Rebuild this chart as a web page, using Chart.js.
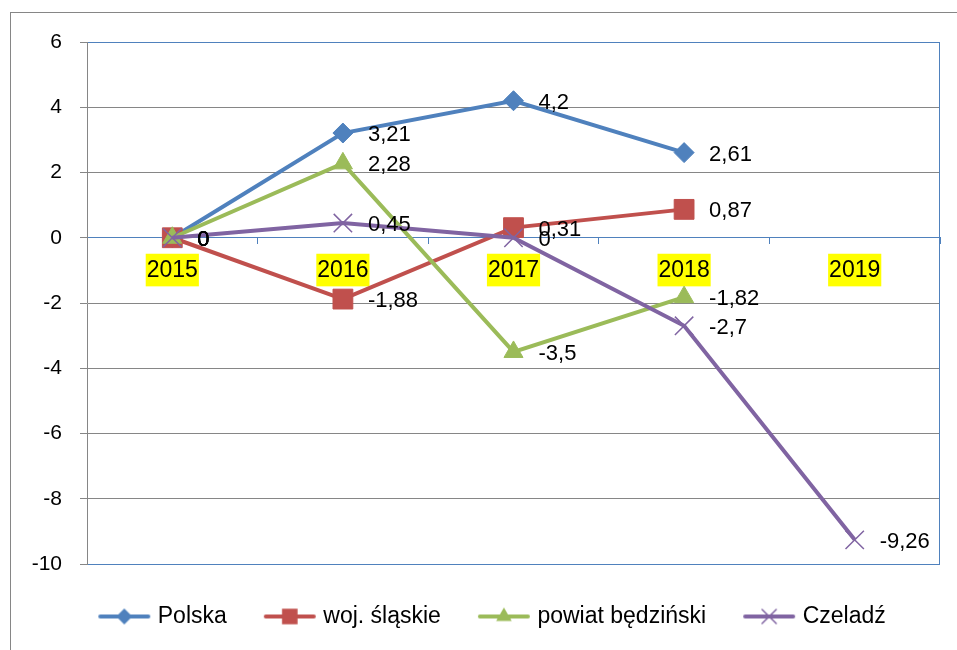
<!DOCTYPE html>
<html>
<head>
<meta charset="utf-8">
<script src="https://cdn.jsdelivr.net/npm/chart.js@4/dist/chart.umd.min.js"></script>
<style>
  html, body { margin: 0; padding: 0; background: #fff; }
  #wrap { width: 957px; height: 650px; }
</style>
</head>
<body>
<div id="wrap"><canvas id="chart" width="957" height="650"></canvas></div>
<script>
// Data
const years = ['2015', '2016', '2017', '2018', '2019'];
const polska = [0, 3.21, 4.2, 2.61, null];
const slaskie = [0, -1.88, 0.31, 0.87, null];
const bedzinski = [0, 2.28, -3.5, -1.82, null];
const czeladz = [0, 0.45, 0, -2.7, -9.26];
const seriesNames = ['Polska', 'woj. śląskie', 'powiat będziński', 'Czeladź'];
const yTicks = { min: -10, max: 6, step: 2 };

const BLUE = '#4F81BD', RED = '#C0504D', GREEN = '#9BBB59', PURPLE = '#8064A2';
const GRID = '#868686';
const FONT = '"Liberation Sans", Arial, sans-serif';

Chart.defaults.font.family = FONT;
Chart.defaults.color = '#000';

// small line+marker pictures for the legend
function legendImg(color, style, r) {
  const c = document.createElement('canvas');
  c.width = 54; c.height = 26;
  const g = c.getContext('2d');
  g.strokeStyle = color;
  g.lineWidth = 4;
  g.lineCap = 'round';
  g.beginPath(); g.moveTo(3, 13); g.lineTo(51, 13); g.stroke();
  g.fillStyle = color;
  g.lineWidth = 1.5;
  Chart.helpers.drawPoint(g, { pointStyle: style, radius: r, borderWidth: style === 'crossRot' ? 1.5 : 0, rotation: 0 }, 27, 13);
  return c;
}

const styles = [
  { color: BLUE, style: 'rectRot', r: 10, lr: 8 },
  { color: RED, style: 'rect', r: 14, lr: 11 },
  { color: GREEN, style: 'triangle', r: 11, lr: 9 },
  { color: PURPLE, style: 'crossRot', r: 13, lr: 10 }
];
const values = [polska, slaskie, bedzinski, czeladz];

const datasets = values.map((vals, i) => ({
  label: seriesNames[i],
  data: vals,
  borderColor: styles[i].color,
  backgroundColor: styles[i].color,
  borderWidth: 4,
  pointStyle: styles[i].style,
  pointRadius: styles[i].r,
  pointBorderWidth: i === 3 ? 1.5 : 1,
  pointBackgroundColor: styles[i].color,
  pointBorderColor: styles[i].color,
  tension: 0,
  order: 4 - i
}));

const legendPics = styles.map(s => legendImg(s.color, s.style, s.lr));

// outer frame and plot border, legend nudged right like the original
const framePlugin = {
  id: 'frame',
  afterLayout(chart) {
    if (chart.legend) {
      chart.legend.left += 24;
      chart.legend.right += 24;
    }
  },
  beforeDraw(chart) {
    const ctx = chart.ctx;
    ctx.save();
    ctx.strokeStyle = GRID;
    ctx.lineWidth = 1;
    ctx.strokeRect(10.5, 12.5, 2000, 2000);
    ctx.restore();
  },
  afterDraw(chart) {
    const { ctx, chartArea: a } = chart;
    ctx.save();
    ctx.strokeStyle = BLUE;
    ctx.lineWidth = 1;
    ctx.beginPath();
    ctx.moveTo(Math.round(a.right) - 0.5, a.top);
    ctx.lineTo(Math.round(a.right) - 0.5, a.bottom);
    ctx.stroke();
    ctx.restore();
  }
};

// value labels to the right of each point
const valueLabels = {
  id: 'valueLabels',
  afterDatasetsDraw(chart) {
    const ctx = chart.ctx;
    ctx.save();
    ctx.font = '22px ' + FONT;
    ctx.fillStyle = '#000';
    ctx.textAlign = 'left';
    ctx.textBaseline = 'middle';
    chart.data.datasets.forEach((ds, i) => {
      const meta = chart.getDatasetMeta(i);
      meta.data.forEach((pt, j) => {
        const v = ds.data[j];
        if (v === null || v === undefined) return;
        ctx.fillText(String(v).replace('.', ','), pt.x + 25, pt.y + 2);
      });
    });
    ctx.restore();
  }
};

new Chart(document.getElementById('chart'), {
  type: 'line',
  data: { labels: years, datasets: datasets },
  options: {
    responsive: false,
    animation: false,
    events: [],
    layout: { padding: { left: 0, right: 17, top: 42, bottom: 12 } },
    scales: {
      x: {
        type: 'category',
        position: { y: 0 },
        offset: true,
        grid: {
          drawOnChartArea: false,
          drawTicks: true,
          tickLength: 6,
          tickColor: BLUE,
          offset: true
        },
        border: { color: BLUE, width: 1 },
        ticks: {
          font: { size: 23 },
          padding: 13,
          maxRotation: 0,
          showLabelBackdrop: true,
          backdropColor: '#FFFF00',
          backdropPadding: { top: 3, bottom: 2, left: 1, right: 1 }
        }
      },
      y: {
        min: yTicks.min,
        max: yTicks.max,
        afterFit(scale) { scale.width = 87; },
        grid: {
          color: ctx => (ctx.tick && (ctx.tick.value === yTicks.max || ctx.tick.value === yTicks.min)) ? BLUE : GRID,
          tickColor: GRID,
          tickLength: 7,
          lineWidth: 1
        },
        border: { color: GRID, width: 1 },
        ticks: {
          stepSize: yTicks.step,
          font: { size: 21 },
          padding: 18
        }
      }
    },
    plugins: {
      tooltip: { enabled: false },
      legend: {
        position: 'bottom',
        labels: {
          usePointStyle: true,
          pointStyleWidth: 44,
          padding: 41,
          font: { size: 23 },
          color: '#000',
          generateLabels(chart) {
            return chart.data.datasets.map((ds, i) => ({
              text: ds.label,
              pointStyle: legendPics[i],
              fillStyle: ds.borderColor,
              strokeStyle: ds.borderColor,
              lineWidth: 0,
              hidden: false,
              datasetIndex: i
            }));
          }
        }
      }
    }
  },
  plugins: [framePlugin, valueLabels]
});
</script>
</body>
</html>
